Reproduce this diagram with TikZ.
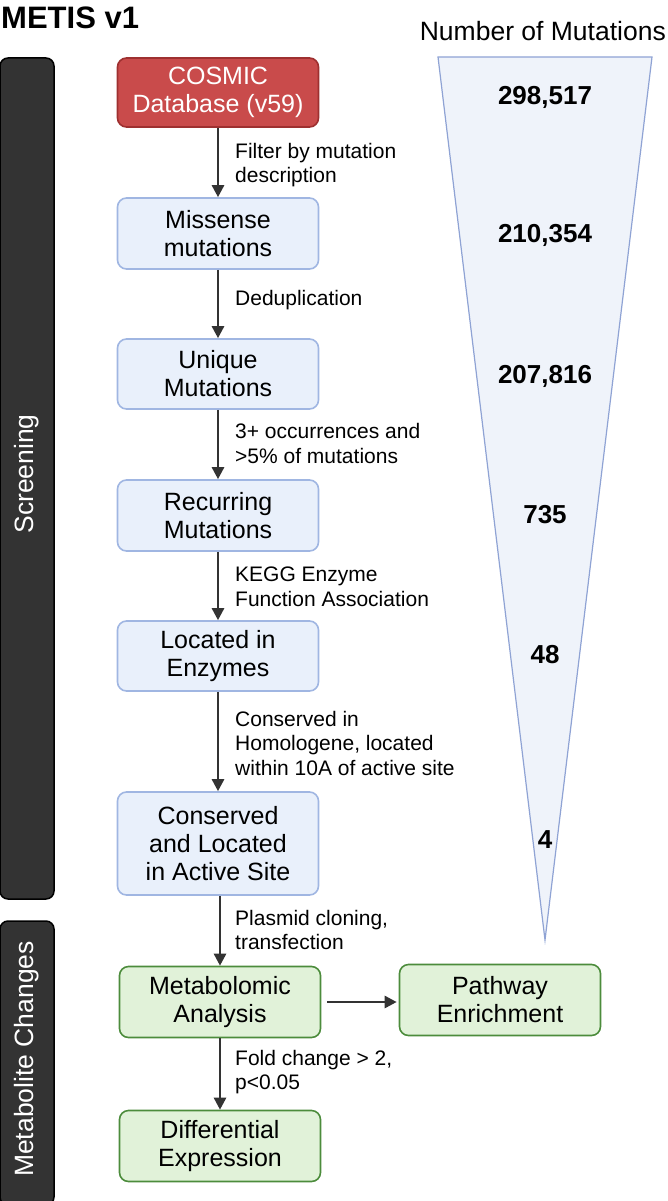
\documentclass[tikz,border=0pt]{standalone}
\usepackage{fontspec}
\setmainfont{Liberation Sans}
\usetikzlibrary{arrows.meta}
\definecolor{redfill}{HTML}{C94B4B}
\definecolor{redbd}{HTML}{9E3030}
\definecolor{bluefill}{HTML}{E9F0FB}
\definecolor{bluebd}{HTML}{A0B6E2}
\definecolor{greenfill}{HTML}{E1F2D9}
\definecolor{greenbd}{HTML}{4C8C3C}
\definecolor{trifill}{HTML}{EFF3FA}
\definecolor{tribd}{HTML}{8FA3D4}
\definecolor{barfill}{HTML}{333333}
\definecolor{arrowc}{HTML}{333333}
\begin{document}
\begin{tikzpicture}[x=1pt,y=-1pt,
  box/.style={draw, rounded corners=9pt, line width=1.6pt, minimum width=201pt, minimum height=70pt, align=center, inner sep=0pt, font=\fontsize{25}{28}\selectfont},
  bluebox/.style={box, draw=bluebd, fill=bluefill},
  greenbox/.style={box, draw=greenbd, fill=greenfill},
  redbox/.style={box, draw=redbd, fill=redfill, text=white},
  arr/.style={-{Triangle[length=12pt,width=12pt]}, line width=2.6pt, draw=arrowc},
  lab/.style={anchor=west, align=left, inner sep=0pt, font=\fontsize{21}{24.5}\selectfont},
  num/.style={font=\bfseries\fontsize{26}{28}\selectfont},
  sidebar/.style={draw=black, fill=barfill, rounded corners=8pt, line width=1.5pt},
  bartext/.style={text=white, rotate=90, font=\fontsize{26.5}{28}\selectfont}
]
\useasboundingbox (0,0) rectangle (667,1201);

% title and heading
\node[anchor=west, inner sep=0pt, font=\bfseries\fontsize{31}{34}\selectfont] (title) at (1,18) {METIS v1};
\node[anchor=east, inner sep=0pt, font=\fontsize{26.5}{28}\selectfont] (head) at (666,31) {Number of Mutations};

% side bars
\draw[sidebar] (0,58) rectangle (54,899);
\node[bartext] (scr) at (27,474) {Screening};
\draw[sidebar] (0,921) rectangle (54,1205);
\node[bartext] (met) at (27,1059) {Metabolite Changes};

% funnel
\draw[draw=tribd, fill=trifill, line width=1.2pt] (438,57) -- (652,57) -- (545,940) -- cycle;
\node[num] (n1) at (545,97) {298,517};
\node[num] (n2) at (545,235) {210,354};
\node[num] (n3) at (545,376) {207,816};
\node[num] (n4) at (545,515) {735};
\node[num] (n5) at (545,655) {48};
\node[num] (n6) at (545,840) {4};

% boxes
\node[redbox, minimum height=69pt] (cosmic) at (218,92.5) {COSMIC\\Database (v59)};
\node[bluebox, minimum height=71pt] (miss) at (218,233.5) {Missense\\mutations};
\node[bluebox] (uniq) at (218,374) {Unique\\Mutations};
\node[bluebox, minimum height=71pt] (recur) at (218,515.5) {Recurring\\Mutations};
\node[bluebox] (loc) at (218,656) {Located in\\Enzymes};
\node[bluebox, minimum height=103pt] (cons) at (218,843.5) {Conserved\\and Located\\in Active Site};
\node[greenbox, minimum height=71pt] (meta) at (220,1002) {Metabolomic\\Analysis};
\node[greenbox, minimum height=71pt] (path) at (500,1000) {Pathway\\Enrichment};
\node[greenbox, minimum height=71pt] (diff) at (220,1146) {Differential\\Expression};

% arrows
\draw[arr] (cosmic.south) -- (miss.north);
\draw[arr] (miss.south) -- (uniq.north);
\draw[arr] (uniq.south) -- (recur.north);
\draw[arr] (recur.south) -- (loc.north);
\draw[arr] (loc.south) -- (cons.north);
\draw[arr] (cons.south -| meta.north) -- (meta.north);
\draw[arr] (meta.south) -- (diff.north);
\draw[arr] ([xshift=6pt]meta.east) -- ([xshift=-2pt]meta.east -| path.west);

% labels
\node[lab] (l1) at (235,165) {Filter by mutation\\description};
\node[lab] (l2) at (235,300) {Deduplication};
\node[lab] (l3) at (235,443.5) {3+ occurrences and\\>5\% of mutations};
\node[lab] (l4) at (235,587) {KEGG Enzyme\\Function Association};
\node[lab] (l5) at (235,743) {Conserved in\\Homologene, located\\within 10A of active site};
\node[lab] (l6) at (235,930) {Plasmid cloning,\\transfection};
\node[lab] (l7) at (235,1072) {Fold change > 2,\\p<0.05};
\end{tikzpicture}
\end{document}
